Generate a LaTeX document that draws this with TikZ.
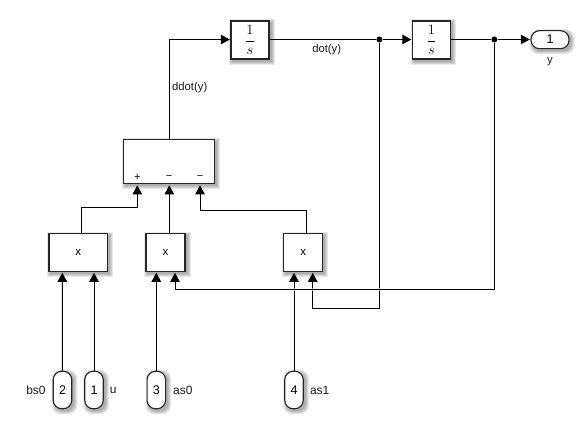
\documentclass[tikz,border=0pt]{standalone}
\usepackage{fontspec}
\setmainfont{Liberation Sans}
\usetikzlibrary{arrows.meta,calc,backgrounds}
\tikzset{
  softshadowlayer/.style={fill=black,fill opacity=.09,draw=none},
  block/.style={draw=black!85,line width=1.1pt,fill=white,inner sep=0pt},
  integ/.style={block,minimum width=38pt,minimum height=38pt},
  prod/.style={block,minimum height=37.5pt,font=\fontsize{11.5}{11.5}\selectfont},
  sumblock/.style={block,minimum width=90.5pt,minimum height=43.5pt},
  port/.style={block,rounded corners=8.5pt,font=\fontsize{12.5}{12.5}\selectfont},
  inport/.style={port,minimum width=18.5pt,minimum height=37.5pt},
  outport/.style={port,minimum width=38pt,minimum height=18pt},
  lbl/.style={inner sep=0pt,font=\fontsize{11.3}{11.3}\selectfont,text=black!90},
  portlbl/.style={lbl,font=\fontsize{12}{12}\selectfont},
  sign/.style={inner sep=0pt,font=\fontsize{11}{11}\selectfont},
  intext/.style={font=\fontsize{14}{14}\selectfont},
  wire/.style={line width=1pt,black},
  arrowwire/.style={wire,-{Triangle[length=9pt,width=9.5pt]},shorten >=.6pt},
  halowire/.style={arrowwire,preaction={draw=white,opacity=.6,line width=3pt,-,shorten >=10pt}},
  dotnode/.style={circle,fill=black,inner sep=0pt,minimum size=6pt}
}
\begin{document}
\begin{tikzpicture}[x=1pt,y=-1pt]
\useasboundingbox (0,0) rectangle (577,425);
% blocks
\node[integ,intext] (int1) at (250,40) {$\displaystyle\frac{1}{s}$};
\node[integ,intext] (int2) at (431.5,40) {$\displaystyle\frac{1}{s}$};
\node[outport] (out) at (550,39.7) {1};
\node[sumblock] (sum) at (168.9,161.5) {};
\node[prod,minimum width=58.7pt] (p1) at (78.3,252.4) {x};
\node[prod,minimum width=39pt] (p2) at (165.5,252.4) {x};
\node[prod,minimum width=39pt] (p3) at (303.2,252.4) {x};
\node[inport] (in2) at (62.5,390) {2};
\node[inport] (in1) at (94,390) {1};
\node[inport] (in3) at (156.3,390) {3};
\node[inport] (in4) at (294,390) {4};
% soft shadows behind the blocks
\begin{pgfonlayer}{background}
\foreach \n in {int1,int2,sum,p1,p2,p3}
  \foreach \r in {3,2,1,0}
    \fill[softshadowlayer] ($(\n.north west)+(2-\r,2-\r)$) rectangle ($(\n.south east)+(2+\r,2+\r)$);
\foreach \n in {out,in1,in2,in3,in4}
  \foreach \r in {3,2,1,0}
    \fill[softshadowlayer,rounded corners=8.5pt] ($(\n.north west)+(2-\r,2-\r)$) rectangle ($(\n.south east)+(2+\r,2+\r)$);
\end{pgfonlayer}
% junctions
\node[dotnode] (j1) at (379.4,39.5) {};
\node[dotnode] (j2) at (494.4,39.5) {};
% port coordinates
\coordinate (s1) at ($(sum.south)+(-31.6,1)$);
\coordinate (s2) at ($(sum.south)+(.4,1)$);
\coordinate (s3) at ($(sum.south)+(31.1,1)$);
\coordinate (p1a) at ($(p1.south)+(-16,.5)$);
\coordinate (p1b) at ($(p1.south)+(15.7,.5)$);
\coordinate (p2a) at ($(p2.south)+(-9.2,.5)$);
\coordinate (p2b) at ($(p2.south)+(9.5,.5)$);
\coordinate (p3a) at ($(p3.south)+(-9.2,.5)$);
\coordinate (p3b) at ($(p3.south)+(9.5,.5)$);
\coordinate (p1o) at ($(p1.north)+(3.4,0)$);
\coordinate (p3o) at ($(p3.north)+(3.5,0)$);
% connectors
\draw[arrowwire] (sum.north -| s2) |- (int1.west |- j1);
\draw[wire] (int1.east |- j1) -- (j1);
\draw[arrowwire] (j1) -- (int2.west |- j1);
\draw[wire] (int2.east |- j2) -- (j2);
\draw[arrowwire] (j2) -- (out.west |- j2);
\draw[arrowwire] (p1o) -- ++(0,-25.3) -| (s1);
\draw[arrowwire] (p2.north -| s2) -- (s2);
\draw[arrowwire] (p3o) -- ++(0,-22.3) -| (s3);
\draw[arrowwire] (in2.north) -- (p1a);
\draw[arrowwire] (in1.north) -- (p1b);
\draw[arrowwire] (in3.north) -- (p2a);
\draw[arrowwire] (in4.north) -- (p3a);
\coordinate (c2) at (494.4,289.3);
\coordinate (c1) at (379.4,308.3);
\draw[arrowwire] (j1) -- (c1) -| (p3b);
\draw[halowire] (j2) -- (c2) -| (p2b);
% block marks
\node[sign] (sp) at (137.3,177.3) {+};
\node[sign] (sm1) at (169.2,177.3) {\textminus};
\node[sign] (sm2) at (200.2,177.3) {\textminus};
% labels
\node[lbl] (l1) at (189.7,88) {ddot(y)};
\node[lbl] (l2) at (326.7,49.5) {dot(y)};
\node[lbl] (l3) at (550,61.5) {y};
\node[portlbl] (l4) at (36,390) {bs0};
\node[portlbl] (l5) at (113.3,390) {u};
\node[portlbl] (l6) at (182.8,390) {as0};
\node[portlbl] (l7) at (319.7,390) {as1};
\end{tikzpicture}
\end{document}
